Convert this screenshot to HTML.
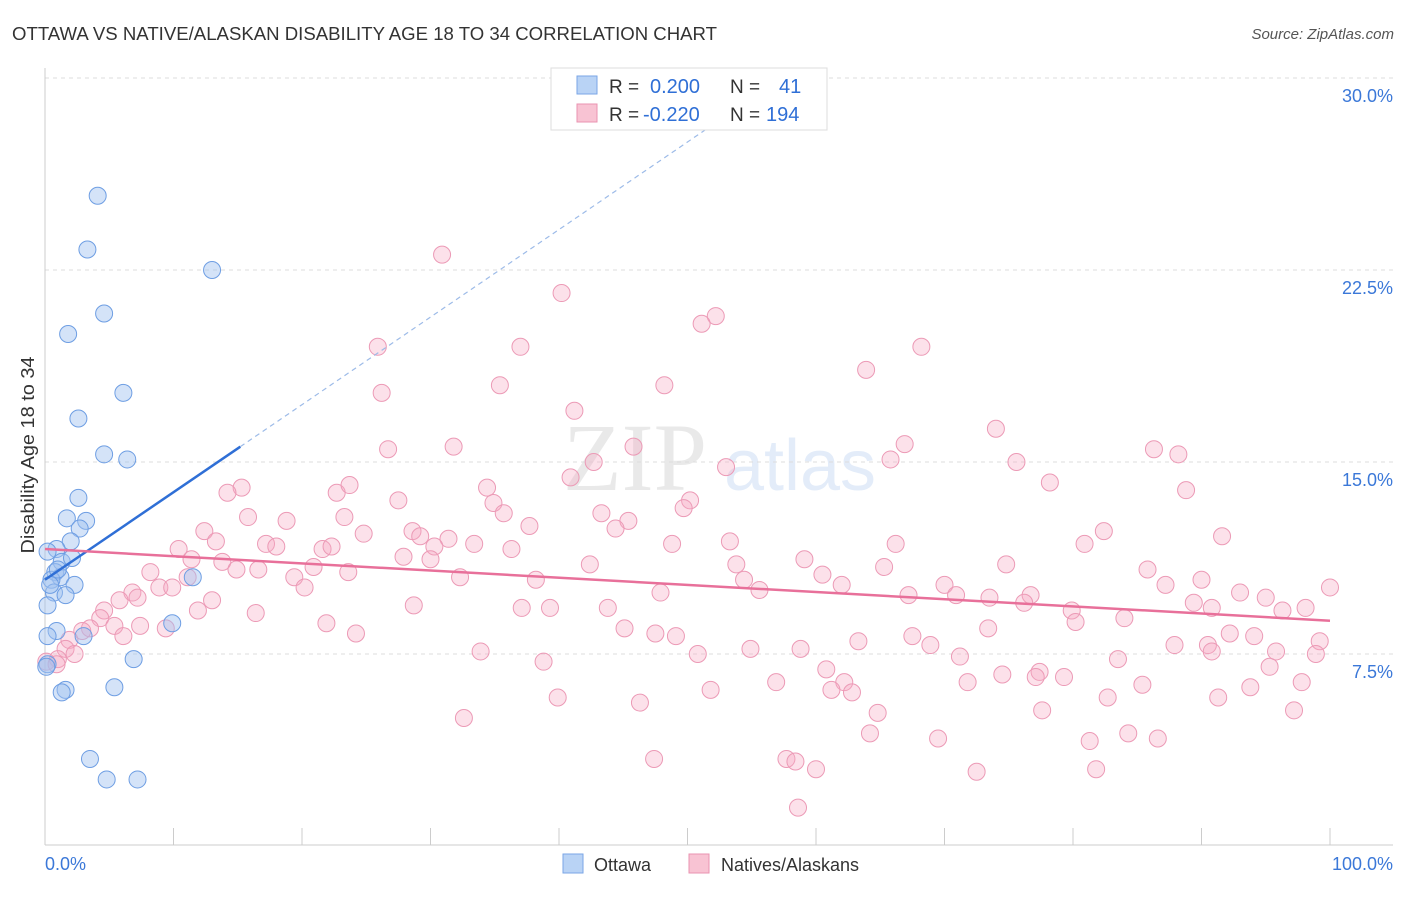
<!DOCTYPE html>
<html><head><meta charset="utf-8"><style>
body{margin:0;background:#fff;width:1406px;height:892px;overflow:hidden;font-family:"Liberation Sans",sans-serif}
</style></head><body>
<svg id="chart" width="1406" height="892" xmlns="http://www.w3.org/2000/svg" font-family="Liberation Sans, sans-serif">
<text x="12" y="40" font-size="18" fill="#333" textLength="705" lengthAdjust="spacingAndGlyphs">OTTAWA VS NATIVE/ALASKAN DISABILITY AGE 18 TO 34 CORRELATION CHART</text>
<text x="1394" y="39" font-size="15" fill="#555" text-anchor="end" font-style="italic">Source: ZipAtlas.com</text>
<text transform="translate(34,455) rotate(-90)" font-size="18" fill="#333" text-anchor="middle" textLength="197" lengthAdjust="spacingAndGlyphs">Disability Age 18 to 34</text>
<g opacity="0.18">
<text x="635" y="490" font-size="96" font-family="Liberation Serif, serif" fill="#888" text-anchor="middle">ZIP</text>
<text x="800" y="490" font-size="72" fill="#6a9be0" text-anchor="middle">atlas</text>
</g>
<g id="grid"></g><g id="axes"></g><g id="pts"></g><g id="trend"></g>
<g>
<rect x="551" y="68" width="276" height="62" fill="#fff" stroke="#ddd"/>
<rect x="577" y="76" width="20" height="18" fill="#b9d3f5" stroke="#7aa6e6"/>
<rect x="577" y="104" width="20" height="18" fill="#f8c3d3" stroke="#ea93b0"/>
<text x="609" y="93" font-size="19" fill="#333">R =</text>
<text x="650" y="93" font-size="20" fill="#2f6fd6">0.200</text>
<text x="730" y="93" font-size="19" fill="#333">N =</text>
<text x="779" y="93" font-size="20" fill="#2f6fd6">41</text>
<text x="609" y="121" font-size="19" fill="#333">R =</text>
<text x="643" y="121" font-size="20" fill="#2f6fd6">-0.220</text>
<text x="730" y="121" font-size="19" fill="#333">N =</text>
<text x="766" y="121" font-size="20" fill="#2f6fd6">194</text>
</g>
<g>
<rect x="563" y="854" width="20" height="19" fill="#b9d3f5" stroke="#7aa6e6"/>
<text x="594" y="871" font-size="18" fill="#333">Ottawa</text>
<rect x="689" y="854" width="20" height="19" fill="#f8c3d3" stroke="#ea93b0"/>
<text x="721" y="871" font-size="18" fill="#333">Natives/Alaskans</text>
</g>
</svg>
<script>
const yTicks=[7.5,15,22.5,30];
const xTickLabels=["0.0%","100.0%"];
const blueX=[4.1,3.3,13.0,4.6,1.8,6.1,2.6,4.6,6.4,2.6,1.7,3.2,2.7,2.0,0.9,0.2,1.3,2.1,0.8,1.2,2.3,0.5,11.5,0.7,1.6,0.2,9.9,0.9,0.2,3.0,6.9,0.2,1.6,1.3,5.4,3.5,4.8,7.2,0.1,0.4,1.0];
const blueY=[25.4,23.3,22.5,20.8,20.0,17.7,16.7,15.3,15.1,13.6,12.8,12.7,12.4,11.9,11.6,11.5,11.1,11.25,10.7,10.5,10.2,10.4,10.5,9.9,9.8,9.4,8.7,8.4,8.2,8.2,7.3,7.1,6.1,6.0,6.2,3.4,2.6,2.6,7.0,10.2,10.8];
const pinkX=[30.9,40.2,52.2,51.1,25.9,37.0,68.2,63.9,35.4,48.2,26.2,41.2,74.0,66.9,45.8,31.8,26.7,86.3,88.2,65.8,42.7,53.0,75.6,40.9,78.2,34.4,22.7,23.7,15.3,14.2,27.5,50.2,88.8,34.9,49.7,35.7,43.3,15.8,23.3,18.8,45.4,12.4,28.6,44.4,37.7,82.4,29.2,31.4,24.8,91.6,13.3,17.2,18.0,21.6,22.3,33.4,30.3,53.3,48.8,36.3,66.2,80.9,10.4,27.9,30.0,13.8,11.4,59.1,42.4,53.8,74.8,20.9,8.2,14.9,23.6,32.3,16.6,60.5,65.3,85.8,11.1,8.9,38.2,54.4,19.4,90.0,20.2,70.0,62.0,87.2,6.8,5.8,7.2,9.9,47.9,55.6,67.2,70.9,73.5,76.7,93.0,95.0,100,13.0,11.9,16.4,28.7,37.1,39.3,43.8,76.2,89.4,90.8,96.3,98.1,79.9,4.6,4.3,3.5,5.4,7.4,2.9,6.1,9.4,21.9,84.0,80.2,45.1,47.5,49.1,24.2,73.4,92.2,94.1,99.2,1.9,1.6,2.3,1.0,0.1,0.9,58.8,63.3,67.5,68.9,87.9,90.5,90.8,95.8,50.8,54.9,71.2,33.9,38.8,83.5,98.9,95.3,60.8,77.4,77.1,79.3,74.5,56.9,71.8,62.2,61.2,62.8,85.4,93.8,97.8,51.8,39.9,46.3,82.7,91.3,77.6,64.8,32.6,97.2,64.2,69.5,84.3,86.6,81.3,47.4,57.7,58.4,60.0,81.8,72.5,58.6];
const pinkY=[23.1,21.6,20.7,20.4,19.5,19.5,19.5,18.6,18.0,18.0,17.7,17.0,16.3,15.7,15.6,15.6,15.5,15.5,15.3,15.1,15.0,14.8,15.0,14.4,14.2,14.0,13.8,14.1,14.0,13.8,13.5,13.5,13.9,13.4,13.2,13.0,13.0,12.85,12.85,12.7,12.7,12.3,12.3,12.4,12.5,12.3,12.1,12.0,12.2,12.1,11.9,11.8,11.7,11.6,11.7,11.8,11.7,11.9,11.8,11.6,11.8,11.8,11.6,11.3,11.2,11.1,11.2,11.2,11.0,11.0,11.0,10.9,10.7,10.8,10.7,10.5,10.8,10.6,10.9,10.8,10.5,10.1,10.4,10.4,10.5,10.4,10.1,10.2,10.2,10.2,9.9,9.6,9.7,10.1,9.9,10.0,9.8,9.8,9.7,9.8,9.9,9.7,10.1,9.6,9.2,9.1,9.4,9.3,9.3,9.3,9.5,9.5,9.3,9.2,9.3,9.2,9.2,8.9,8.5,8.6,8.6,8.4,8.2,8.5,8.7,8.9,8.75,8.5,8.3,8.2,8.3,8.5,8.3,8.2,8.0,8.05,7.7,7.5,7.3,7.2,7.1,7.7,8.0,8.2,7.85,7.85,7.85,7.6,7.6,7.5,7.7,7.4,7.6,7.2,7.3,7.5,7.0,6.9,6.8,6.6,6.6,6.7,6.4,6.4,6.4,6.1,6.0,6.3,6.2,6.4,6.1,5.8,5.6,5.8,5.8,5.3,5.2,5.0,5.3,4.4,4.2,4.4,4.2,4.1,3.4,3.4,3.3,3.0,3.0,2.9,1.5];
const blueTrend=[10.4,0.342];
const blueSolidEnd=[15.2];
const pinkTrend=[11.6,-0.028];
const NS="http://www.w3.org/2000/svg";
const X0=45,X1=1330,Y0=846,PPU=25.6;
const sx=v=>X0+(X1-X0)*v/100;
const sy=v=>Y0-v*PPU;
function mk(parent,tag,attrs){const e=document.createElementNS(NS,tag);for(const k in attrs)e.setAttribute(k,attrs[k]);document.getElementById(parent).appendChild(e);return e;}
yTicks.forEach(t=>{
  const l=mk('grid','line',{x1:45,x2:1393,y1:sy(t),y2:sy(t),stroke:'#ddd','stroke-dasharray':'4,4'});
  
  
  const tx=mk('grid','text',{x:1393,y:sy(t)+24,'font-size':18,fill:'#3b78d8','text-anchor':'end'});
  tx.textContent=t.toFixed(1)+'%';
  
  
});
const ax=mk('axes','line',{x1:45,x2:1393,y1:845,y2:845,stroke:'#ccc'});


const ay=mk('axes','line',{x1:45,x2:45,y1:68,y2:845,stroke:'#ccc'});


for(let i=0;i<=10;i++){const t=mk('axes','line',{x1:sx(i*10),x2:sx(i*10),y1:828,y2:845,stroke:'#ccc'});
  
  }
[[0,'start',45],[100,'end',1393]].forEach((d,i)=>{const t=mk('axes','text',{x:d[2],y:870,'font-size':18,fill:'#3b78d8','text-anchor':d[1]});
  t.textContent=xTickLabels[i];
  
  });
pinkX.forEach((v,i)=>{const c=mk('pts','circle',{cx:sx(v),cy:sy(pinkY[i]),r:8.5,fill:'rgba(246,170,196,0.35)',stroke:'#ec9ab6','stroke-width':1});
  
  });
blueX.forEach((v,i)=>{const c=mk('pts','circle',{cx:sx(v),cy:sy(blueY[i]),r:8.5,fill:'rgba(160,194,240,0.45)',stroke:'#6e9ee3','stroke-width':1});
  
  });
const bf=x=>blueTrend[0]+blueTrend[1]*x;
const bs=mk('trend','line',{x1:sx(0),y1:sy(bf(0)),x2:sx(blueSolidEnd[0]),y2:sy(bf(blueSolidEnd[0])),stroke:'#2f6fd6','stroke-width':2.5});


const xEnd=(30-blueTrend[0])/blueTrend[1];
const bd=mk('trend','line',{x1:sx(blueSolidEnd[0]),y1:sy(bf(blueSolidEnd[0])),x2:sx(xEnd),y2:sy(30),stroke:'#9dbbe8','stroke-width':1.2,'stroke-dasharray':'5,4'});


const pf=x=>pinkTrend[0]+pinkTrend[1]*x;
const pl=mk('trend','line',{x1:sx(0),y1:sy(pf(0)),x2:sx(100),y2:sy(pf(100)),stroke:'#e8709a','stroke-width':2.5});


</script>
</body></html>
